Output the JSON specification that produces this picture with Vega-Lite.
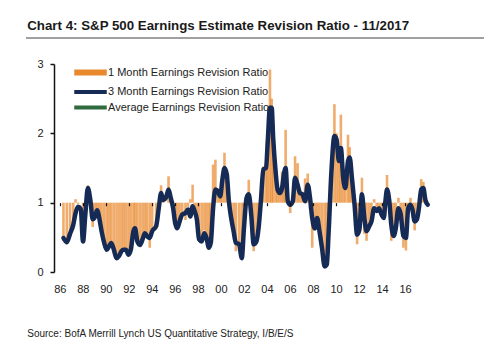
{
  "$schema": "https://vega.github.io/schema/vega-lite/v6.json",
  "background": "white",
  "padding": {"left": 25, "top": 18, "right": 10, "bottom": 4},
  "config": {
    "font": "Liberation Sans",
    "view": {"stroke": null},
    "axisY": {"domain": true, "ticks": true, "domainColor": "#111111", "domainWidth": 1.5, "tickColor": "#111111", "tickWidth": 1.5, "tickSize": 4, "labelPadding": 7, "labelFontSize": 11, "labelColor": "#222222", "grid": false, "minExtent": 0}
  },
  "title": {"text": "Source: BofA Merrill Lynch US Quantitative Strategy, I/B/E/S", "orient": "bottom", "anchor": "start", "fontSize": 10, "fontWeight": "normal", "color": "#222222", "offset": 34, "dx": 2},
  "columns": 1,
  "spacing": 19,
  "concat": [
    {
      "width": 458,
      "height": 1,
      "title": {"text": "Chart 4: S&P 500 Earnings Estimate Revision Ratio - 11/2017", "anchor": "start", "fontSize": 13.3, "fontWeight": "bold", "color": "#1a1a1a", "dx": 2, "offset": 5},
      "data": {"values": [{"v": 0}]},
      "mark": {"type": "rule", "color": "#808080", "strokeWidth": 1.5},
      "encoding": {"y": {"field": "v", "type": "quantitative", "axis": null, "scale": {"domain": [0, 1]}}}
    },
    {
      "width": 407,
      "height": 208,
      "data": {"values": [
        {"t":1986.32,"a":0.45,"b":0.49},{"t":1986.61,"a":0.40,"b":0.43},{"t":1986.89,"a":0.58,"b":0.55},{"t":1987.17,"a":0.72,"b":0.68},
        {"t":1987.37,"a":1.05,"b":0.85},{"t":1987.59,"a":0.98,"b":0.94},{"t":1987.82,"a":1.00,"b":0.91},{"t":1988.02,"a":0.50,"b":0.44},
        {"t":1988.22,"a":0.80,"b":0.83},{"t":1988.44,"a":1.25,"b":1.21},{"t":1988.67,"a":1.05,"b":1.02},{"t":1988.86,"a":0.65,"b":0.76},
        {"t":1989.07,"a":0.83,"b":0.80},{"t":1989.24,"a":0.92,"b":0.89},{"t":1989.43,"a":0.75,"b":0.78},{"t":1989.63,"a":0.55,"b":0.59},
        {"t":1989.86,"a":0.38,"b":0.42},{"t":1990.08,"a":0.30,"b":0.32},{"t":1990.28,"a":0.40,"b":0.37},{"t":1990.47,"a":0.44,"b":0.42},
        {"t":1990.70,"a":0.30,"b":0.32},{"t":1990.93,"a":0.18,"b":0.20},{"t":1991.15,"a":0.22,"b":0.23},{"t":1991.36,"a":0.32,"b":0.30},
        {"t":1991.55,"a":0.30,"b":0.32},{"t":1991.75,"a":0.34,"b":0.32},{"t":1991.97,"a":0.23,"b":0.25},{"t":1992.17,"a":0.36,"b":0.32},
        {"t":1992.40,"a":0.62,"b":0.59},{"t":1992.54,"a":0.65,"b":0.63},{"t":1992.74,"a":0.42,"b":0.44},{"t":1992.97,"a":0.38,"b":0.39},
        {"t":1993.19,"a":0.50,"b":0.47},{"t":1993.39,"a":0.58,"b":0.56},{"t":1993.58,"a":0.48,"b":0.52},{"t":1993.81,"a":0.35,"b":0.49},
        {"t":1994.03,"a":0.60,"b":0.59},{"t":1994.37,"a":0.70,"b":0.66},{"t":1994.60,"a":1.00,"b":0.92},{"t":1994.80,"a":1.25,"b":1.14},
        {"t":1995.00,"a":1.08,"b":1.04},{"t":1995.22,"a":1.00,"b":1.07},{"t":1995.45,"a":1.38,"b":1.19},{"t":1995.64,"a":1.12,"b":1.07},
        {"t":1995.85,"a":0.88,"b":0.92},{"t":1996.02,"a":0.68,"b":0.71},{"t":1996.21,"a":0.62,"b":0.63},{"t":1996.41,"a":0.76,"b":0.73},
        {"t":1996.64,"a":0.86,"b":0.83},{"t":1996.92,"a":0.75,"b":0.85},{"t":1997.14,"a":0.94,"b":0.90},{"t":1997.34,"a":1.05,"b":0.80},
        {"t":1997.54,"a":1.26,"b":0.95},{"t":1997.71,"a":0.92,"b":0.88},{"t":1997.91,"a":0.70,"b":0.76},{"t":1998.10,"a":0.50,"b":0.47},
        {"t":1998.33,"a":0.42,"b":0.44},{"t":1998.56,"a":0.60,"b":0.56},{"t":1998.75,"a":0.50,"b":0.49},{"t":1998.95,"a":0.32,"b":0.35},
        {"t":1999.12,"a":0.45,"b":0.42},{"t":1999.32,"a":1.55,"b":0.92},{"t":1999.52,"a":1.62,"b":1.19},{"t":1999.75,"a":1.20,"b":1.16},
        {"t":1999.94,"a":1.15,"b":1.09},{"t":2000.11,"a":1.40,"b":1.31},{"t":2000.31,"a":1.72,"b":1.50},{"t":2000.51,"a":1.45,"b":1.41},
        {"t":2000.68,"a":1.10,"b":1.04},{"t":2000.87,"a":0.78,"b":0.80},{"t":2001.10,"a":0.55,"b":0.59},{"t":2001.30,"a":0.30,"b":0.42},
        {"t":2001.58,"a":0.42,"b":0.40},{"t":2001.81,"a":0.22,"b":0.20},{"t":2002.00,"a":0.70,"b":0.63},{"t":2002.23,"a":1.10,"b":1.07},
        {"t":2002.42,"a":1.33,"b":1.12},{"t":2002.63,"a":0.80,"b":0.83},{"t":2002.85,"a":0.30,"b":0.40},{"t":2003.08,"a":0.46,"b":0.44},
        {"t":2003.27,"a":0.68,"b":0.63},{"t":2003.47,"a":1.08,"b":1.02},{"t":2003.69,"a":1.52,"b":1.48},{"t":2003.92,"a":1.55,"b":1.50},
        {"t":2004.07,"a":1.95,"b":1.89},{"t":2004.26,"a":2.92,"b":2.37},{"t":2004.41,"a":2.50,"b":2.37},{"t":2004.54,"a":1.95,"b":1.93},
        {"t":2004.75,"a":1.50,"b":1.45},{"t":2004.92,"a":1.20,"b":1.19},{"t":2005.11,"a":1.18,"b":1.14},{"t":2005.31,"a":1.45,"b":1.21},
        {"t":2005.47,"a":1.45,"b":1.41},{"t":2005.62,"a":2.05,"b":1.50},{"t":2005.81,"a":1.05,"b":1.02},{"t":2006.02,"a":0.85,"b":0.97},
        {"t":2006.24,"a":1.10,"b":1.02},{"t":2006.44,"a":1.67,"b":1.36},{"t":2006.66,"a":1.57,"b":1.26},{"t":2006.86,"a":1.20,"b":1.14},
        {"t":2007.08,"a":1.15,"b":1.12},{"t":2007.31,"a":1.35,"b":1.02},{"t":2007.54,"a":1.42,"b":1.26},{"t":2007.74,"a":0.90,"b":1.07},
        {"t":2007.93,"a":0.35,"b":0.78},{"t":2008.16,"a":0.62,"b":0.63},{"t":2008.36,"a":0.80,"b":0.78},{"t":2008.56,"a":0.55,"b":0.59},
        {"t":2008.78,"a":0.30,"b":0.35},{"t":2009.01,"a":0.08,"b":0.08},{"t":2009.20,"a":0.15,"b":0.11},{"t":2009.35,"a":0.60,"b":0.55},
        {"t":2009.60,"a":1.50,"b":1.45},{"t":2009.86,"a":2.42,"b":1.96},{"t":2010.05,"a":2.00,"b":1.91},{"t":2010.25,"a":1.65,"b":1.60},
        {"t":2010.42,"a":2.27,"b":1.79},{"t":2010.62,"a":1.40,"b":1.36},{"t":2010.81,"a":1.25,"b":1.21},{"t":2011.04,"a":1.98,"b":1.60},
        {"t":2011.19,"a":1.80,"b":1.65},{"t":2011.38,"a":1.40,"b":1.36},{"t":2011.61,"a":0.90,"b":0.97},{"t":2011.83,"a":0.40,"b":0.54},
        {"t":2012.03,"a":0.60,"b":0.61},{"t":2012.25,"a":1.36,"b":1.12},{"t":2012.46,"a":0.55,"b":0.78},{"t":2012.65,"a":0.45,"b":0.59},
        {"t":2012.88,"a":0.70,"b":0.66},{"t":2013.08,"a":0.75,"b":0.73},{"t":2013.31,"a":1.05,"b":0.92},{"t":2013.53,"a":0.90,"b":0.88},
        {"t":2013.73,"a":0.95,"b":0.92},{"t":2013.95,"a":0.80,"b":0.83},{"t":2014.15,"a":0.75,"b":0.78},{"t":2014.29,"a":1.10,"b":1.02},
        {"t":2014.43,"a":1.40,"b":1.19},{"t":2014.63,"a":1.05,"b":1.02},{"t":2014.80,"a":0.45,"b":0.68},{"t":2015.00,"a":0.50,"b":0.52},
        {"t":2015.19,"a":0.65,"b":0.63},{"t":2015.42,"a":1.07,"b":0.92},{"t":2015.62,"a":0.85,"b":0.83},{"t":2015.85,"a":0.35,"b":0.52},
        {"t":2016.07,"a":0.31,"b":0.49},{"t":2016.27,"a":0.95,"b":0.92},{"t":2016.47,"a":1.07,"b":0.97},{"t":2016.64,"a":0.92,"b":0.90},
        {"t":2016.83,"a":0.60,"b":0.73},{"t":2017.03,"a":0.78,"b":0.76},{"t":2017.20,"a":0.95,"b":0.92},{"t":2017.40,"a":1.34,"b":1.19},
        {"t":2017.59,"a":1.30,"b":1.21},{"t":2017.76,"a":1.06,"b":1.04},{"t":2017.97,"a":0.98,"b":0.97}
      ]},
      "encoding": {
        "x": {"field": "t", "type": "quantitative", "scale": {"domain": [1983.5, 2017.99], "nice": false, "zero": false},
              "axis": {"values": [1986,1988,1990,1992,1994,1996,1998,2000,2002,2004,2006,2008,2010,2012,2014,2016],
                       "labelExpr": "substring(toString(datum.value), 2)", "offset": -69.33, "domain": false, "grid": false,
                       "tickSize": 3, "tickColor": "#111111", "tickWidth": 1.2, "labelPadding": 78, "labelFontSize": 11,
                       "labelColor": "#222222", "labelFlush": false, "labelOverlap": false, "title": null, "zindex": 1}}
      },
      "layer": [
        {
          "mark": {"type": "bar", "width": 2.6, "fillOpacity": 0.7},
          "encoding": {
            "y": {"field": "a", "type": "quantitative", "scale": {"domain": [0, 3], "nice": false},
                  "axis": {"values": [0, 1, 2, 3], "format": "d", "title": null, "offset": -28, "zindex": 1}},
            "y2": {"datum": 1},
            "color": {"datum": "1 Month Earnings Revision Ratio", "type": "nominal",
                      "scale": {"domain": ["1 Month Earnings Revision Ratio", "3 Month Earnings Revision Ratio", "Average Earnings Revision Ratio"],
                                "range": ["#E8892E", "#152B55", "#2F6B3E"]},
                      "legend": {"title": null, "orient": "none", "legendX": 59, "legendY": 30, "padding": 0,
                                 "symbolType": "M-2.5,0H2.5", "symbolSize": 169, "symbolStrokeWidth": 4, "labelFontSize": 11,
                                 "labelColor": "#222222", "labelOffset": 12, "rowPadding": -1.5, "labelLimit": 400,
                                 "encode": {"symbols": {"update": {
                                   "fill": {"value": "transparent"},
                                   "stroke": {"signal": "datum.value === '1 Month Earnings Revision Ratio' ? '#E8892E' : datum.value === '3 Month Earnings Revision Ratio' ? '#152B55' : '#2F6B3E'"},
                                   "strokeWidth": {"signal": "datum.value === '1 Month Earnings Revision Ratio' ? 6 : 4"},
                                   "opacity": {"value": 1}, "strokeOpacity": {"value": 1}}}}}}
          }
        },
        {
          "data": {"values": [{"v": 1}]},
          "mark": {"type": "rule", "color": "#111111", "strokeWidth": 1.5},
          "encoding": {"y": {"field": "v", "type": "quantitative"}, "x": {"datum": 1985.87}, "x2": {"datum": 2017.99}}
        },
        {
          "data": {"values": [{"avg": 0.84}]},
          "mark": {"type": "rule", "strokeWidth": 3.5},
          "encoding": {"y": {"field": "avg", "type": "quantitative"}, "x": {"datum": 1986.1}, "x2": {"datum": 2017.99},
                       "color": {"datum": "Average Earnings Revision Ratio", "type": "nominal"}}
        },
        {
          "mark": {"type": "line", "strokeWidth": 4.5, "interpolate": "monotone", "strokeJoin": "round", "strokeCap": "round"},
          "encoding": {"y": {"field": "b", "type": "quantitative"}, "color": {"datum": "3 Month Earnings Revision Ratio", "type": "nominal"}}
        }
      ]
    }
  ]
}
